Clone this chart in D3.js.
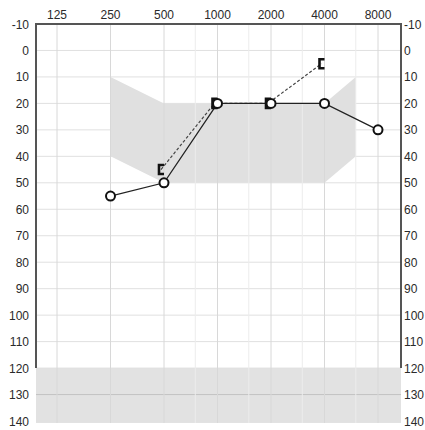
<!DOCTYPE html>
<html>
<head>
<meta charset="utf-8">
<script src="https://cdn.jsdelivr.net/npm/d3@7"></script>
<style>
  body { margin: 0; background: #fff; }
  text { font-family: "Liberation Sans", Arial, sans-serif; fill: #2a2a2a; }
</style>
</head>
<body>
<div id="chart"></div>
<script>
// Audiogram data
const freqs = [125, 250, 500, 1000, 2000, 4000, 8000];
const halfFreqs = [750, 1500, 3000, 6000];
const dbTicks = [-10, 0, 10, 20, 30, 40, 50, 60, 70, 80, 90, 100, 110, 120, 130, 140];

// air conduction (circles, solid)
const airFreq = [250, 500, 1000, 2000, 4000, 8000];
const airDb = [55, 50, 20, 20, 20, 30];

// bone conduction (brackets, dashed)
const boneFreq = [500, 1000, 2000, 4000];
const boneDb = [45, 20, 20, 5];

// normal-range shading
const bandFreq = [250, 500, 4000, 6000];
const bandTop = [10, 20, 20, 10];
const bandBottom = [40, 50, 50, 40];

const W = 425, H = 430;
const plotLeft = 36, plotRight = 401, plotTop = 24;

const svg = d3.select("#chart").append("svg")
    .attr("width", W)
    .attr("height", H);

const x = d3.scaleLog().base(2)
    .domain([125, 8000])
    .range([57, 378]);

const y = d3.scaleLinear()
    .domain([-10, 140])
    .range([plotTop, 421]);

// shaded area
const band = bandFreq.map((f, i) => [x(f), y(bandTop[i])])
    .concat(bandFreq.map((f, i) => [x(f), y(bandBottom[i])]).reverse());
svg.append("polygon")
    .attr("points", band.map(p => p.join(",")).join(" "))
    .attr("fill", "#e0e0e0");

// bottom band 120-140
svg.append("rect")
    .attr("x", plotLeft)
    .attr("y", y(120))
    .attr("width", plotRight - plotLeft)
    .attr("height", y(140) - y(120) + 2)
    .attr("fill", "#e2e2e2");

// grid
svg.append("g").selectAll("line")
    .data(dbTicks.slice(1))
    .enter().append("line")
    .attr("x1", plotLeft).attr("x2", plotRight)
    .attr("y1", d => y(d)).attr("y2", d => y(d))
    .attr("stroke", d => d === 130 ? "#c4c4c4" : "#e0e0e0")
    .attr("stroke-width", 1);

svg.append("g").selectAll("line")
    .data(halfFreqs)
    .enter().append("line")
    .attr("x1", d => x(d)).attr("x2", d => x(d))
    .attr("y1", plotTop).attr("y2", y(140) + 2)
    .attr("stroke", "#ececec");

svg.append("g").selectAll("line")
    .data(freqs)
    .enter().append("line")
    .attr("x1", d => x(d)).attr("x2", d => x(d))
    .attr("y1", plotTop).attr("y2", y(140) + 2)
    .attr("stroke", "#d8d8d8");

// frame
svg.append("path")
    .attr("d", `M${plotLeft},${y(120)}V${plotTop}H${plotRight}V${y(120)}`)
    .attr("fill", "none")
    .attr("stroke", "#555")
    .attr("stroke-width", 2);

// labels
svg.append("g").selectAll("text")
    .data(freqs)
    .enter().append("text")
    .attr("x", d => x(d))
    .attr("y", 19)
    .attr("text-anchor", "middle")
    .style("font-size", "12px")
    .text(d => d);

svg.append("g").selectAll("text")
    .data(dbTicks)
    .enter().append("text")
    .attr("x", 29)
    .attr("y", d => y(d) + 4.5)
    .attr("text-anchor", "end")
    .style("font-size", "12px")
    .text(d => d);

svg.append("g").selectAll("text")
    .data(dbTicks)
    .enter().append("text")
    .attr("x", 404)
    .attr("y", d => y(d) + 4.5)
    .style("font-size", "12px")
    .text(d => d);

// bone conduction line + brackets
const line = d3.line().x(d => x(d[0])).y(d => y(d[1]));
const bone = boneFreq.map((f, i) => [f, boneDb[i]]);
svg.append("path")
    .datum(bone)
    .attr("d", d3.line().x(d => x(d[0]) - 3).y(d => y(d[1])))
    .attr("fill", "none")
    .attr("stroke", "#444")
    .attr("stroke-width", 1.2)
    .attr("stroke-dasharray", "3,2");

const air = airFreq.map((f, i) => [f, airDb[i]]);
svg.append("path")
    .datum(air)
    .attr("d", line)
    .attr("fill", "none")
    .attr("stroke", "#222")
    .attr("stroke-width", 1.3);

svg.append("g").selectAll("path")
    .data(bone)
    .enter().append("path")
    .attr("d", d => {
        const cx = x(d[0]) - 5, cy = y(d[1]);
        return `M${cx + 5},${cy - 4.5}H${cx}V${cy + 4.5}H${cx + 5}`;
    })
    .attr("fill", "none")
    .attr("stroke", "#111")
    .attr("stroke-width", 2.6);

svg.append("g").selectAll("circle")
    .data(air)
    .enter().append("circle")
    .attr("cx", d => x(d[0]))
    .attr("cy", d => y(d[1]))
    .attr("r", 4.5)
    .attr("fill", "#fff")
    .attr("stroke", "#111")
    .attr("stroke-width", 2);
</script>
</body>
</html>
